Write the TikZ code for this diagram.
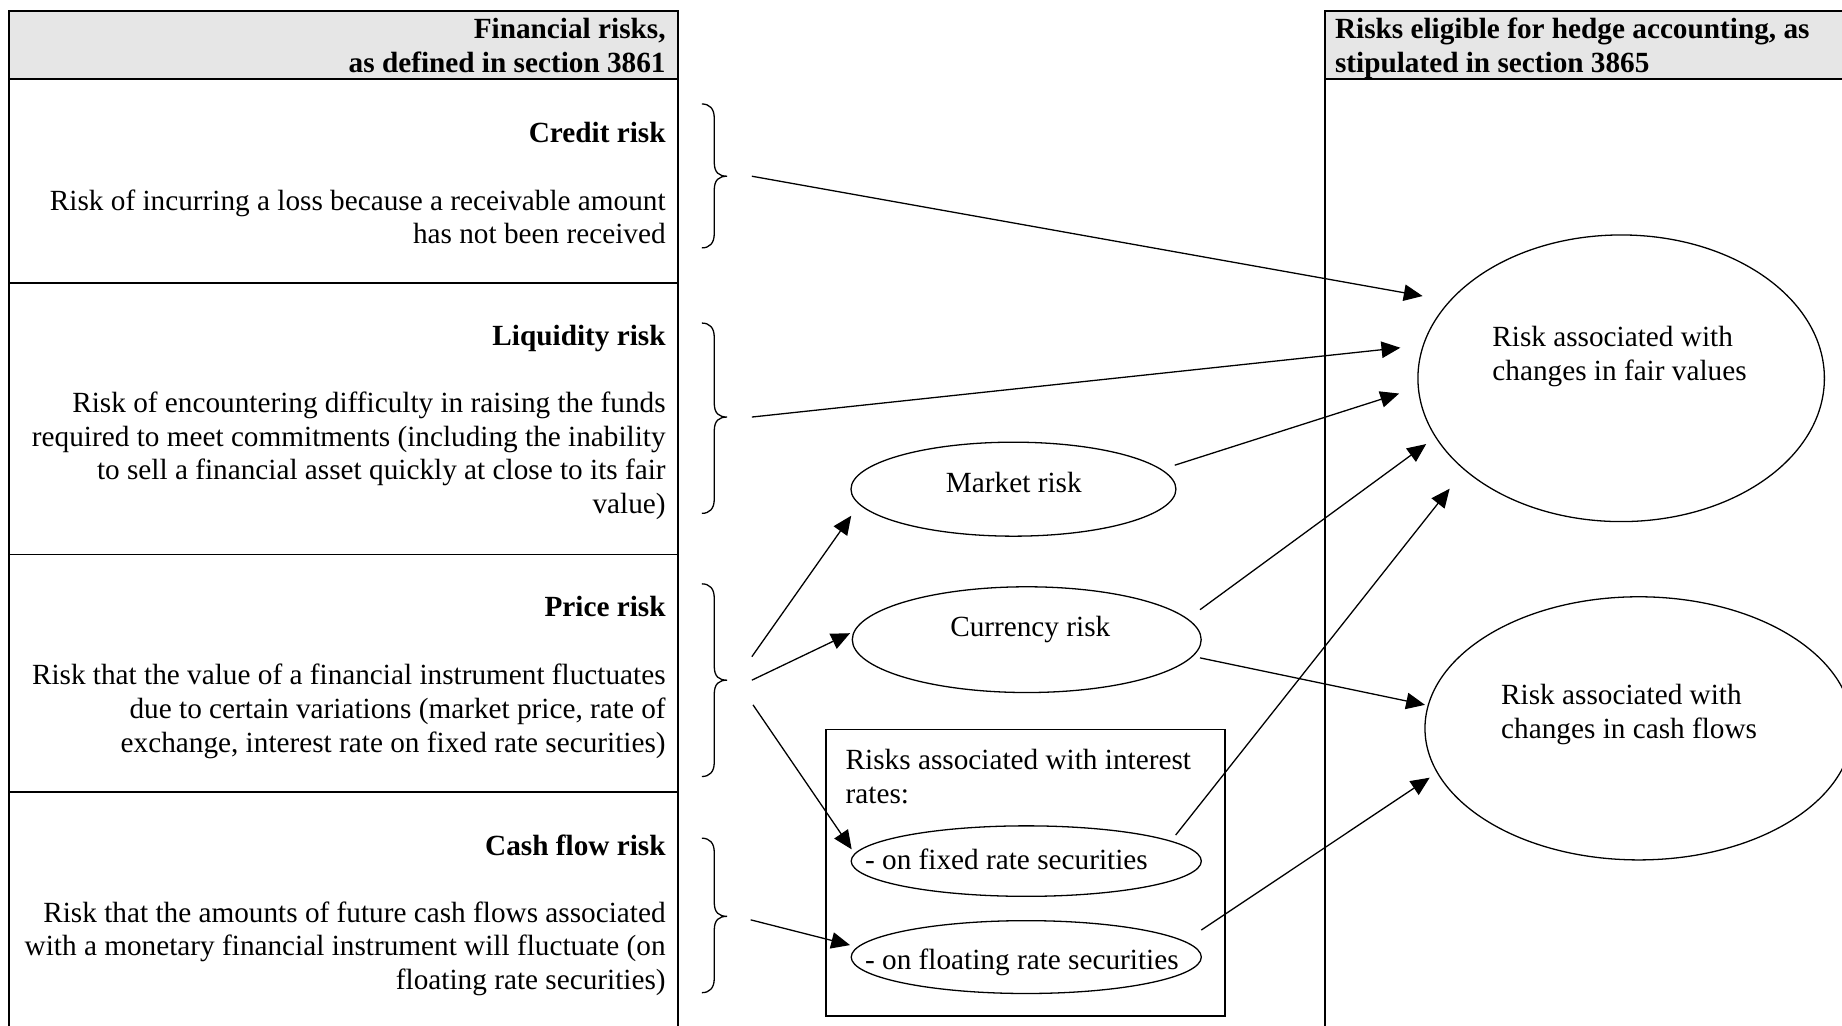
\documentclass[tikz,border=0pt]{standalone}
\usepackage{fontspec}
\setmainfont{Liberation Serif}
\usetikzlibrary{arrows.meta,shapes.geometric}
\definecolor{headgray}{HTML}{E6E6E6}
\newcommand{\mybrace}[3]{%
  \draw[bracestyle] (597.5,#1) .. controls (604,#1) and (608,#1+4) .. (608,#1+12) -- (608,#2-12) .. controls (608,#2-3) and (612,#2) .. (619,#2) .. controls (612,#2) and (608,#2+3) .. (608,#2+12) -- (608,#3-12) .. controls (608,#3-4) and (604,#3) .. (597.5,#3);}
% #1 name prefix, #2 x, #3 first baseline, #4 style, #5 list of lines
\newcommand{\mylines}[5]{%
  \foreach \tline [count=\ii from 0] in {#5} {\node[#4] (#1\ii) at (#2,#3+\ii*28.7) {\tline};}}
\begin{document}
\begin{tikzpicture}[x=0.5pt,y=-0.5pt,
  tbl/.style={line width=0.8pt},
  oval/.style={draw, ellipse, line width=0.55pt, inner sep=0pt},
  arr/.style={line width=0.55pt, -{Triangle[length=8pt,width=7pt]}},
  bracestyle/.style={line width=0.55pt},
  txt/.style={inner sep=0pt, font=\fontsize{12.45}{14.35}\selectfont},
  rtxt/.style={txt, anchor=base east},
  rbtxt/.style={txt, anchor=base east, font=\fontsize{12.45}{14.35}\selectfont\bfseries},
  ltxt/.style={txt, anchor=base west},
  lbtxt/.style={txt, anchor=base west, font=\fontsize{12.45}{14.35}\selectfont\bfseries},
  ctxt/.style={txt, anchor=base},
]
\clip (0,0) rectangle (1568,873);
\fill[white] (0,0) rectangle (1568,873);
% left table
\fill[headgray] (8,9) rectangle (577,67);
\draw[tbl] (8,873) -- (8,9) -- (577,9) -- (577,873);
\foreach \yy in {67,241,472,674} \draw[tbl] (8,\yy) -- (577,\yy);
% right table
\fill[headgray] (1128,9) rectangle (1575,67);
\draw[tbl] (1128,873) -- (1128,9) -- (1575,9);
\draw[tbl] (1128,67) -- (1575,67);
% header texts
\mylines{hL}{567}{33}{rbtxt}{{Financial risks,},{as defined in section 3861}}
\mylines{hR}{1136}{33}{lbtxt}{{Risks eligible for hedge accounting, as},{stipulated in section 3865}}
% left rows
\node[rbtxt] (credT) at (567,121) {Credit risk};
\mylines{credB}{567}{179}{rtxt}{{Risk of incurring a loss because a receivable amount},{has not been received}}
\node[rbtxt] (liqT) at (567,294) {Liquidity risk};
\mylines{liqB}{567}{351}{rtxt}{{Risk of encountering difficulty in raising the funds},{required to meet commitments (including the inability},{to sell a financial asset quickly at close to its fair},{value)}}
\node[rbtxt] (priT) at (567,525) {Price risk};
\mylines{priB}{567}{583}{rtxt}{{Risk that the value of a financial instrument fluctuates},{due to certain variations (market price, rate of},{exchange, interest rate on fixed rate securities)}}
\node[rbtxt] (cfT) at (567,728) {Cash flow risk};
\mylines{cfB}{567}{785}{rtxt}{{Risk that the amounts of future cash flows associated},{with a monetary financial instrument will fluctuate (on},{floating rate securities)}}
% braces
\mybrace{88.5}{150}{211}
\mybrace{275}{355}{437}
\mybrace{497}{579}{661}
\mybrace{713.5}{780}{845}
% middle ovals
\node[oval, minimum width=138.3pt, minimum height=40pt] (mkt) at (862.7,416.4) {};
\node[ctxt] (mktL) at (863,419) {Market risk};
\node[oval, minimum width=148.5pt, minimum height=45pt] (cur) at (874,544.5) {};
\node[ctxt] (curL) at (877,542) {Currency risk};
\draw[tbl] (703,621) rectangle (1043,865);
\mylines{boxL}{719.5}{655}{ltxt}{{Risks associated with interest},{rates:}}
\node[oval, minimum width=149pt, minimum height=30pt] (fix) at (873.6,733) {};
\node[ltxt] (fixL) at (736,740) {- on fixed rate securities};
\node[oval, minimum width=149pt, minimum height=31pt] (flt) at (873.6,814.7) {};
\node[ltxt] (fltL) at (736,825) {- on floating rate securities};
% right ovals
\node[oval, minimum width=173pt, minimum height=122pt] (fair) at (1380,322) {};
\mylines{fairL}{1270}{295}{ltxt}{{Risk associated with},{changes in fair values}}
\node[oval, minimum width=182pt, minimum height=112pt] (cash) at (1395,620) {};
\mylines{cashL}{1277.5}{600}{ltxt}{{Risk associated with},{changes in cash flows}}
% connector ends
\coordinate (cb) at (640,150);
\coordinate (lb) at (640,355);
\coordinate (pb1) at (640,559);
\coordinate (pb2) at (640,579);
\coordinate (pb3) at (641,600);
\coordinate (fb) at (639,783);
\coordinate (mktS) at (1000,396);
\coordinate (curS1) at (1021.5,519);
\coordinate (curS2) at (1021.5,560);
\coordinate (fixS) at (1000.8,710.8);
\coordinate (fltS) at (1022.6,791.7);
\coordinate (fairA) at (1211,252);
\coordinate (fairB) at (1192,296);
\coordinate (fairC) at (1191,335);
\coordinate (fairD) at (1214,378);
\coordinate (fairE) at (1234,416);
\coordinate (cashA) at (1213,600);
\coordinate (cashB) at (1217,662);
\coordinate (mktT) at (724.6,439);
\coordinate (curT) at (723.6,539);
\coordinate (fixT) at (725,723);
\coordinate (fltT) at (723.6,804.5);
% arrows
\draw[arr] (cb) -- (fairA);
\draw[arr] (lb) -- (fairB);
\draw[arr] (mktS) -- (fairC);
\draw[arr] (curS1) -- (fairD);
\draw[arr] (fixS) -- (fairE);
\draw[arr] (curS2) -- (cashA);
\draw[arr] (fltS) -- (cashB);
\draw[arr] (pb1) -- (mktT);
\draw[arr] (pb2) -- (curT);
\draw[arr] (pb3) -- (fixT);
\draw[arr] (fb) -- (fltT);
\end{tikzpicture}
\end{document}
